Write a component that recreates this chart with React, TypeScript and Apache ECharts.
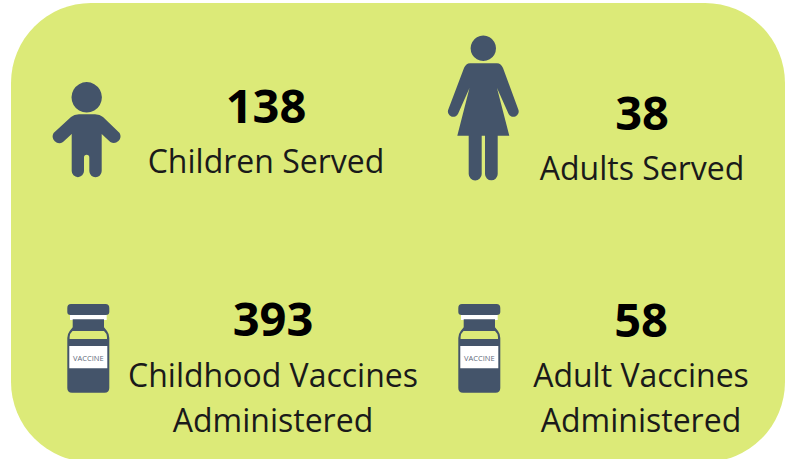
import React, { useEffect, useRef } from "react";
import * as echarts from "echarts";

const values = ["138", "38", "393", "58"];
const labelLines = [["Children Served"], ["Adults Served"], ["Childhood Vaccines", "Administered"], ["Adult Vaccines", "Administered"]];
const valueAnchors = [[266, 105], [642, 112], [273, 318], [641, 319]];
const labelAnchors = [[266, 160], [642, 167], [273, 374], [641, 374]];
const lineGap = 45;
const vialOffsets = [0, 391];
const vialText = "VACCINE";

const PANEL = "#dcea78";
const ICON = "#44546a";
const FONT = "'Open Sans', sans-serif";

const childPath = "M79 114.3L95 114.3Q100 114.3 103 117L119.6 133A6.7 6.7 0 0 1 110.3 142L101.7 134L101.7 171A6.2 6.2 0 0 1 89.3 171L89.3 157.5A2.65 2.65 0 0 0 84 157.5L84 171A6.15 6.15 0 0 1 71.7 171L71.7 134L63 142A6.7 6.7 0 0 1 53.6 133L71 117Q74 114.3 79 114.3Z";
const womanPath = "M470 63.3L497 63.3Q501 63.3 503 68L518.3 109.5A5.3 5.3 0 0 1 508.4 113.5L497 88L509.3 135.7L497.7 135.7L497.7 174A6.35 6.35 0 0 1 485 174L485 135.7L481.7 135.7L481.7 174A6.5 6.5 0 0 1 468.7 174L468.7 135.7L457.3 135.7L469.5 88L458.2 113.5A5.3 5.3 0 0 1 448.3 109.5L464 68Q466 63.3 470 63.3Z";
const vialPath = "M71 304L105.5 304Q109.3 304 109.3 308L109.3 312Q109.3 315 106 315L70.5 315Q67.3 315 67.3 312L67.3 308Q67.3 304 71 304ZM72.7 319.3L104 319.3L104 327.3L107 331Q109.3 334 109.3 338L109.3 388Q109.3 392.7 104.5 392.7L72 392.7Q67.3 392.7 67.3 388L67.3 338Q67.3 334 69.7 331L72.7 327.3ZM72.5 331Q70 333 69.6 337L69.6 339L107 339L107 337Q106.6 333 104 331Z";

echarts.graphic.registerShape("childIcon", echarts.graphic.extendPath(childPath, {}));
echarts.graphic.registerShape("womanIcon", echarts.graphic.extendPath(womanPath, {}));
echarts.graphic.registerShape("vialIcon", echarts.graphic.extendPath(vialPath, {}));

export default function App() {
  const ref = useRef<HTMLDivElement>(null);
  useEffect(() => {
    document.body.style.margin = "0";
    document.body.style.background = "#ffffff";
    const chart = echarts.init(ref.current!, null, { renderer: "svg" });
    const elements: any[] = [
      { type: "rect", shape: { x: 11, y: 3, width: 774, height: 459, r: 80 }, style: { fill: PANEL } },
      { type: "circle", shape: { cx: 86.7, cy: 97.3, r: 15.2 }, style: { fill: ICON } },
      { type: "childIcon", x: 0, y: 0, style: { fill: ICON } },
      { type: "circle", shape: { cx: 483.3, cy: 48.3, r: 12.7 }, style: { fill: ICON } },
      { type: "womanIcon", x: 0, y: 0, style: { fill: ICON } },
    ];
    vialOffsets.forEach((dx) => {
      elements.push({ type: "rect", shape: { x: 70 + dx, y: 314, width: 36.7, height: 6 }, style: { fill: "#ffffff" } });
      elements.push({ type: "vialIcon", x: dx, y: 0, style: { fill: ICON, fillRule: "evenodd" } });
      elements.push({ type: "rect", shape: { x: 69.3 + dx, y: 346, width: 38, height: 22.3 }, style: { fill: "#ffffff" } });
      elements.push({ type: "text", x: 88.3 + dx, y: 357.5, style: { text: vialText, fill: "#5f6b7c", font: "7.5px 'Liberation Sans Narrow', " + FONT, textAlign: "center", textVerticalAlign: "middle" } });
    });
    values.forEach((v, i) => {
      elements.push({ type: "text", x: valueAnchors[i][0], y: valueAnchors[i][1], style: { text: v, fill: "#000000", font: "bold 47px " + FONT, textAlign: "center", textVerticalAlign: "middle" } });
      labelLines[i].forEach((line, j) => {
        elements.push({ type: "text", x: labelAnchors[i][0], y: labelAnchors[i][1] + j * lineGap, style: { text: line, fill: "#1a1a1a", font: "32px " + FONT, textAlign: "center", textVerticalAlign: "middle" } });
      });
    });
    chart.setOption({ animation: false, graphic: { elements } });
    return () => chart.dispose();
  }, []);
  return <div ref={ref} style={{ width: 791, height: 459 }} />;
}
